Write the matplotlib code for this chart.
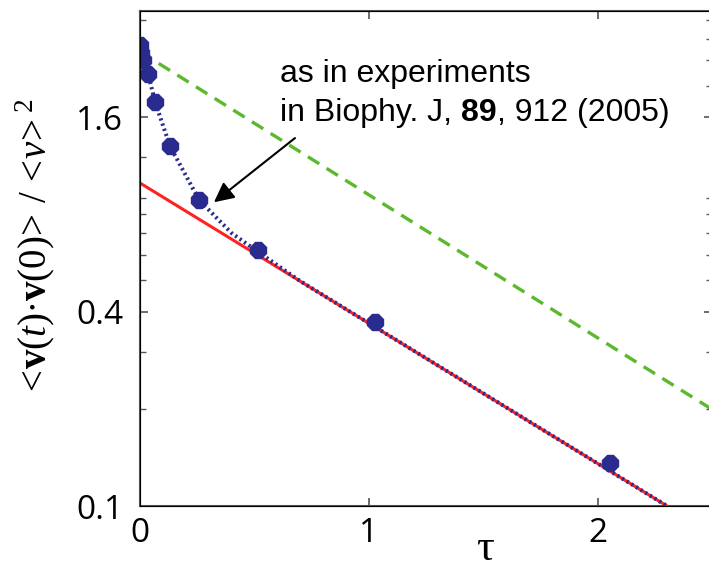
import numpy as np
import matplotlib.pyplot as plt

plt.rcParams['mathtext.fontset'] = 'custom'
plt.rcParams['mathtext.rm'] = 'Liberation Serif'
plt.rcParams['mathtext.it'] = 'Liberation Serif:italic'
plt.rcParams['mathtext.bf'] = 'Liberation Serif:bold'

# velocity autocorrelation, normalised (measured points)
tau = [0.0, 0.004, 0.013, 0.035, 0.066, 0.131, 0.258, 0.516, 1.027, 2.054]
corr = [2.67, 2.53, 2.40, 2.18, 1.78, 1.30, 0.886, 0.620, 0.371, 0.136]

# model curve (dotted), merging into the long-time exponential
model_tau = [0.0, 0.004, 0.013, 0.035, 0.066, 0.131, 0.258, 0.40, 0.516, 0.70, 2.5]
model_val = [2.67, 2.53, 2.40, 2.18, 1.78, 1.30, 0.886, 0.70, 0.612, 0.497, 0.0821]

# exponential fits (straight lines on the log axis): end points
fit_tau = [0.0, 2.5]
fit_val = [1.0, 0.0821]
upper_tau = [0.0, 2.5]
upper_val = [2.55, 0.199]

yticks = [0.1, 0.4, 1.6]
yticklabels = ['0.1', '0.4', '1.6']
xticks = [0, 1, 2]
left_minor = [0.2, 0.3, 0.5, 0.6, 0.7, 0.8, 0.9, 1.2, 2.15, 3.2]
right_minor = [0.2, 0.3, 0.5, 0.6, 0.7, 0.8, 0.9, 2.0, 2.4, 2.8, 3.2]

navy = '#2a2b8e'
tick_font = 'Open Sans'

fig = plt.figure(figsize=(7.09, 5.69), dpi=100)
ax = fig.add_axes([0.1975, 0.1107, 0.807, 0.870])

ax.plot(upper_tau, upper_val, color='#5cb82c', lw=2.4, ls=(0, (4, 2.6)), zorder=2)
ax.plot(fit_tau, fit_val, color='#ff2222', lw=2.2, zorder=3)
ax.plot(model_tau, model_val, color=navy, lw=2.9, ls=(0, (0.55, 0.8)), zorder=4)
ax.plot(tau, corr, ls='none', marker='8', ms=12.5, color=navy, mec=navy, zorder=5)

ax.set_yscale('log')
ax.set_xlim(0, 2.5)
ax.set_ylim(0.1, 3.41)
ax.set_xticks(xticks)
ax.set_xticklabels([str(t) for t in xticks], fontsize=24, family=tick_font)
ax.set_yticks(yticks)
ax.set_yticklabels(yticklabels, fontsize=24, family=tick_font)
ax.set_yticks(left_minor, minor=True)
ax.yaxis.set_minor_formatter(plt.NullFormatter())
ax.tick_params(which='both', direction='in', color='#555555', top=True)
ax.tick_params(which='major', length=6, width=1.2)
ax.tick_params(which='minor', length=4, width=1.0)
ax.tick_params(axis='x', pad=8)
ax.tick_params(axis='y', pad=12)
for sp in ax.spines.values():
    sp.set_color('#555555')
    sp.set_linewidth(1.5)

ax2 = ax.twinx()
ax2.set_yscale('log')
ax2.set_ylim(ax.get_ylim())
ax2.set_yticks(yticks)
ax2.set_yticks(right_minor, minor=True)
ax2.yaxis.set_major_formatter(plt.NullFormatter())
ax2.yaxis.set_minor_formatter(plt.NullFormatter())
ax2.tick_params(which='both', direction='in', color='#555555')
ax2.tick_params(which='major', length=6, width=1.2)
ax2.tick_params(which='minor', length=4, width=1.0)

ax.set_xlabel(r'$\mathrm{\tau}$', fontsize=32, va='center')
ax.xaxis.set_label_coords(0.603, -0.083)
ax.set_ylabel(r'$<\!\mathbf{v}(t)\!\bullet\!\mathbf{v}(0)\!>\,/\,<\!\nu\!>^2$',
              fontsize=28, va='center')
ax.yaxis.set_label_coords(-0.184, 0.521)

# reference to the experimental data
ax.annotate('', xy=(0.323, 0.872), xytext=(0.677, 1.378),
            arrowprops=dict(arrowstyle='-|>', color='black', lw=1.5,
                            mutation_scale=30, shrinkA=0, shrinkB=0))
txt_kw = dict(fontsize=23, family='Liberation Sans')
ax.text(0.612, 2.18, 'as in experiments', va='center', **txt_kw)
t1 = ax.text(0.612, 1.65, 'in Biophy. J, ', va='center', **txt_kw)
t2 = ax.annotate('89', xy=(1, 0), xycoords=t1, va='bottom',
                 fontweight='bold', **txt_kw)
ax.annotate(', 912 (2005)', xy=(1, 0), xycoords=t2, va='bottom', **txt_kw)

fig.savefig('out.png', dpi=100)
